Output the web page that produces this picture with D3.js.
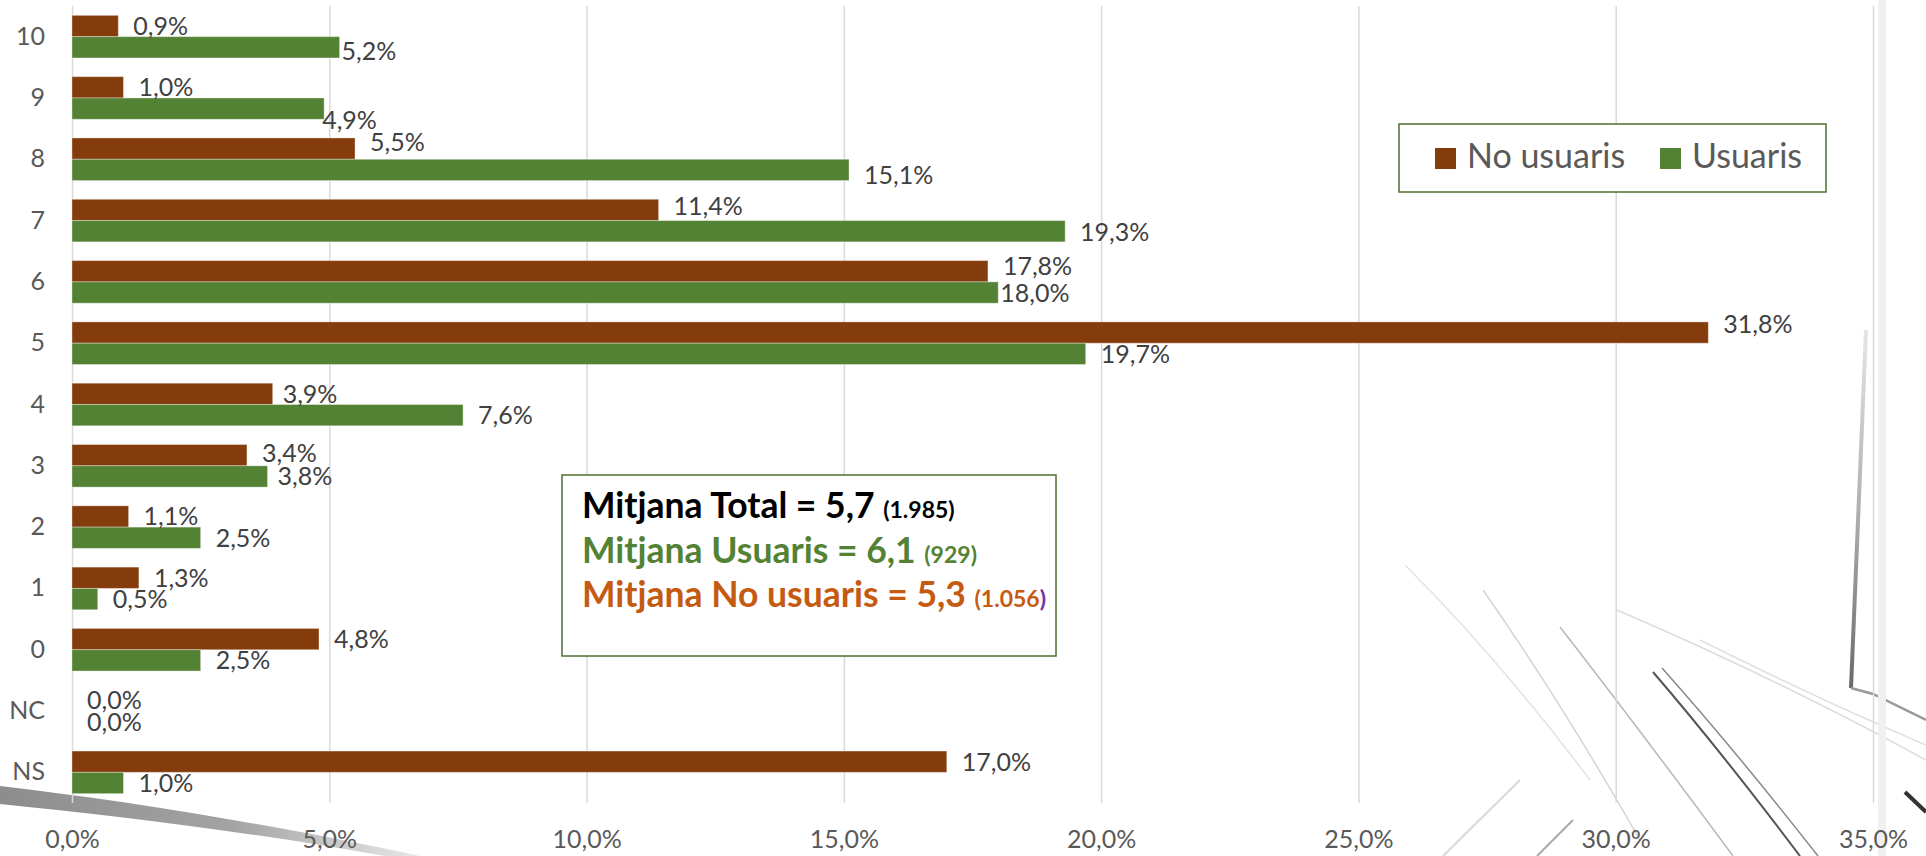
<!DOCTYPE html>
<html>
<head>
<meta charset="utf-8">
<script src="https://cdn.jsdelivr.net/npm/d3@7"></script>
<style>
  body { margin: 0; background: #fff; }
  svg text { font-family: Lato, "Open Sans", sans-serif; }
</style>
</head>
<body>
<div id="chart"></div>
<script>
// categories (top to bottom) and series values (%)
var categories = ["10", "9", "8", "7", "6", "5", "4", "3", "2", "1", "0", "NC", "NS"];
var noUsuaris = [0.9, 1.0, 5.5, 11.4, 17.8, 31.8, 3.9, 3.4, 1.1, 1.3, 4.8, 0.0, 17.0];
var usuaris = [5.2, 4.9, 15.1, 19.3, 18.0, 19.7, 7.6, 3.8, 2.5, 0.5, 2.5, 0.0, 1.0];
var seriesNames = ["No usuaris", "Usuaris"];
var xTicks = [0, 5, 10, 15, 20, 25, 30, 35];

// annotation box texts
var meanNames = ["Mitjana Total", "Mitjana Usuaris", "Mitjana No usuaris"];
var meanValues = ["5,7", "6,1", "5,3"];
var meanCounts = ["1.985", "929", "1.056"];

var width = 1926, height = 856;
var colors = { "No usuaris": "#843C0C", "Usuaris": "#548235" };

// small manual label nudges (like the ones done by hand in the original)
var labelNudge = {
  "Usuaris-10": [-13, 4],
  "Usuaris-9": [-17, 11],
  "No usuaris-8": [0, -7],
  "Usuaris-8": [0, 5],
  "No usuaris-7": [0, -4],
  "Usuaris-7": [0, 1],
  "No usuaris-6": [0, -5],
  "Usuaris-6": [-13, 0],
  "No usuaris-5": [0, -9],
  "No usuaris-4": [-5, 0],
  "No usuaris-3": [0, -2],
  "Usuaris-3": [-5, 0]
};

var svg = d3.select("#chart").append("svg")
  .attr("width", width)
  .attr("height", height);

// faint pencil-sketch texture in the background
var defs = svg.append("defs");
var grad = defs.append("linearGradient")
  .attr("id", "smudge").attr("x1", "0").attr("x2", "1");
grad.append("stop").attr("offset", "0").attr("stop-color", "#707070");
grad.append("stop").attr("offset", "0.55").attr("stop-color", "#8c8c8c");
grad.append("stop").attr("offset", "1").attr("stop-color", "#e2e2e2");
var vgrad = defs.append("linearGradient")
  .attr("id", "vline").attr("x1", "0").attr("x2", "0").attr("y1", "0").attr("y2", "1");
vgrad.append("stop").attr("offset", "0").attr("stop-color", "#e6e6e6");
vgrad.append("stop").attr("offset", "0.5").attr("stop-color", "#b0b0b0");
vgrad.append("stop").attr("offset", "1").attr("stop-color", "#6a6a6a");

var deco = svg.append("g").attr("class", "deco").attr("fill", "none");
deco.append("path")
  .attr("d", "M0,786 C120,800 260,822 420,856 L385,856 C250,832 120,816 0,804 Z")
  .attr("fill", "url(#smudge)")
  .attr("opacity", 0.8);
deco.append("path")
  .attr("d", "M1866,330 L1851,688")
  .attr("stroke", "url(#vline)")
  .attr("stroke-width", 4);
var strokes = [
  ["M1851,688 L1873,694 L1926,720", "#9a9a9a", 2.5],
  ["M1653,672 Q1720,750 1800,856", "#555", 2],
  ["M1662,668 Q1735,750 1818,856", "#888", 1.5],
  ["M1560,627 Q1640,730 1733,856", "#b8b8b8", 1.5],
  ["M1483,590 Q1560,700 1640,840", "#d4d4d4", 1.5],
  ["M1405,565 Q1500,660 1590,780", "#e2e2e2", 1.5],
  ["M1617,610 Q1780,680 1926,760", "#dcdcdc", 1.5],
  ["M1700,640 Q1820,700 1926,745", "#e0e0e0", 1.5],
  ["M1520,780 L1443,856", "#d8d8d8", 2],
  ["M1573,820 L1537,856", "#aaaaaa", 2],
  ["M1905,792 L1926,812", "#333", 4],
  ["M1882,0 L1882,856", "#f0f0f0", 8]
];
deco.selectAll("path.s")
  .data(strokes)
  .enter()
  .append("path")
  .attr("class", "s")
  .attr("d", function (d) { return d[0]; })
  .attr("stroke", function (d) { return d[1]; })
  .attr("stroke-width", function (d) { return d[2]; });

// scales
var x = d3.scaleLinear().domain([0, 35]).range([72, 1873]);
var y = d3.scaleBand().domain(categories).range([6, 803])
  .paddingInner(0.305).paddingOuter(0.1525);
var ySub = d3.scaleBand().domain(seriesNames).range([0, y.bandwidth()]);

var fmt = function (v) { return d3.format(".1f")(v).replace(".", ",") + "%"; };

// gridlines
svg.append("g")
  .attr("class", "grid")
  .attr("transform", "translate(0,803)")
  .call(d3.axisBottom(x).tickValues(xTicks).tickSize(-797).tickFormat(""))
  .call(function (g) { g.select(".domain").remove(); })
  .selectAll("line")
  .attr("stroke", "#d9d9d9")
  .attr("stroke-width", 1.5);

// x axis labels
svg.append("g")
  .attr("class", "x-axis")
  .attr("transform", "translate(0,803)")
  .call(d3.axisBottom(x).tickValues(xTicks).tickSize(0).tickFormat(fmt))
  .call(function (g) { g.select(".domain").remove(); })
  .selectAll("text")
  .attr("y", 45)
  .attr("dy", 0)
  .attr("fill", "#595959")
  .style("font-size", "25px");

// y axis labels
svg.append("g")
  .attr("class", "y-axis")
  .attr("transform", "translate(72,0)")
  .call(d3.axisLeft(y).tickSize(0))
  .call(function (g) { g.select(".domain").remove(); })
  .selectAll("text")
  .attr("x", -27)
  .attr("fill", "#595959")
  .style("font-size", "25px");

// flatten the two series into rows
var rows = [];
categories.forEach(function (c, i) {
  rows.push({ cat: c, series: "No usuaris", value: noUsuaris[i] });
  rows.push({ cat: c, series: "Usuaris", value: usuaris[i] });
});

// bars
svg.append("g")
  .selectAll("rect")
  .data(rows)
  .enter()
  .append("rect")
  .attr("x", x(0))
  .attr("y", function (d) { return y(d.cat) + ySub(d.series); })
  .attr("width", function (d) { return x(d.value) - x(0); })
  .attr("height", ySub.bandwidth())
  .attr("fill", function (d) { return colors[d.series]; })
  .attr("stroke", "#ffffff")
  .attr("stroke-opacity", 0.35)
  .attr("stroke-width", 1);

// data labels
svg.append("g")
  .selectAll("text")
  .data(rows)
  .enter()
  .append("text")
  .attr("x", function (d) {
    var n = labelNudge[d.series + "-" + d.cat];
    return x(d.value) + 15 + (n ? n[0] : 0);
  })
  .attr("y", function (d) {
    var n = labelNudge[d.series + "-" + d.cat];
    return y(d.cat) + ySub(d.series) + ySub.bandwidth() / 2 + 9 + (n ? n[1] : 0);
  })
  .attr("fill", "#404040")
  .style("font-size", "25px")
  .text(function (d) { return fmt(d.value); });

// legend
var legend = svg.append("g").attr("class", "legend");
legend.append("rect")
  .attr("x", 1399).attr("y", 124)
  .attr("width", 427).attr("height", 68)
  .attr("fill", "#fff")
  .attr("stroke", "#4f6f2f")
  .attr("stroke-width", 1.5);
var legendItems = legend.selectAll(".legend-item")
  .data(seriesNames)
  .enter()
  .append("g")
  .attr("class", "legend-item")
  .attr("transform", function (d, i) { return "translate(" + (1435 + i * 225) + ",148)"; });
legendItems.append("rect")
  .attr("width", 21).attr("height", 21)
  .attr("fill", function (d) { return colors[d]; });
legendItems.append("text")
  .attr("x", 32).attr("y", 20)
  .attr("fill", "#595959")
  .style("font-size", "34px")
  .text(function (d) { return d; });

// annotation box with the means
var note = svg.append("g").attr("class", "note");
note.append("rect")
  .attr("x", 562).attr("y", 475)
  .attr("width", 494).attr("height", 181)
  .attr("fill", "#fff")
  .attr("stroke", "#4f6f2f")
  .attr("stroke-width", 1.5);
var noteColors = ["#000000", "#548235", "#C55A11"];
var noteLines = note.selectAll("text")
  .data(meanNames)
  .enter()
  .append("text")
  .attr("x", 582)
  .attr("y", function (d, i) { return 518 + i * 44.5; })
  .attr("fill", function (d, i) { return noteColors[i]; })
  .style("font-weight", "bold")
  .style("font-size", "35.5px");
noteLines.append("tspan").text(function (d, i) { return d + " = " + meanValues[i] + " "; });
noteLines.append("tspan")
  .style("font-size", "23px")
  .text(function (d, i) { return "(" + meanCounts[i]; });
noteLines.append("tspan")
  .style("font-size", "23px")
  .attr("fill", function (d, i) { return i === 2 ? "#7030A0" : null; })
  .text(")");
</script>
</body>
</html>
